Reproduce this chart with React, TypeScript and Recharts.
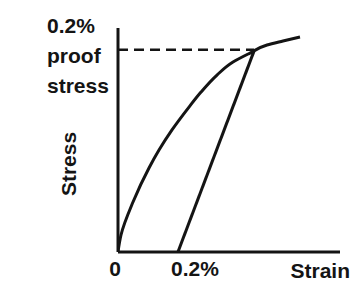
import React from 'react';
import { LineChart, Line, XAxis, YAxis } from 'recharts';

// stress-strain curve (strain %, stress %)
const curveStrain = [0, 1.35, 6.76, 13.96, 18.47, 24.32, 31.98, 37.39, 44.59, 51.8, 59.46, 67.12, 74.32, 81.98];
const curveStress = [0, 7.6, 22.3, 37.5, 45.5, 54.5, 64.7, 71.4, 79.0, 84.8, 88.8, 92.4, 94.2, 96.0];

// line parallel to the elastic part, offset by 0.2% strain
const offsetStrain = [27, 61.3];
const offsetStress = [0, 89.8];

// dashed guide to the proof stress
const proofStrain = [0, 61.3];
const proofStress = [90.3, 90.3];

const xTickValues = [0, 27];
const xTickLabels = ['0', '0.2%'];
const proofLabel = ['0.2%', 'proof', 'stress'];

const toRows = (xs: number[], ys: number[]) => xs.map((x, i) => ({ x, y: ys[i] }));

const curve = toRows(curveStrain, curveStress);
const offsetLine = toRows(offsetStrain, offsetStress);
const proofLine = toRows(proofStrain, proofStress);

const ink = '#141414';
const font = '"Liberation Sans", Arial, sans-serif';

const XTick = (props: any) => {
    const { x, y, index } = props;
    const shift = index === 1 ? 17 : -3;
    return (
        <text x={x + shift} y={y + 1} dy="0.71em" textAnchor="middle" fontFamily={font}
            fontSize={21} fontWeight={700} fill={ink}>
            {xTickLabels[index]}
        </text>
    );
};

export default function App() {
    return (
        <div style={{ position: 'absolute', left: 0, top: 0, background: '#fff' }}>
            <LineChart width={351} height={281} margin={{ top: 28, right: 11, left: 0, bottom: 0 }}>
                <XAxis type="number" dataKey="x" domain={[0, 100]} ticks={xTickValues} height={29}
                    tickLine={false} tick={<XTick />} axisLine={{ stroke: ink, strokeWidth: 3 }}
                    allowDataOverflow interval={0} />
                <YAxis type="number" dataKey="y" domain={[0, 100]} width={118} tick={false}
                    tickLine={false} axisLine={{ stroke: ink, strokeWidth: 3 }} allowDataOverflow />
                <Line data={proofLine} dataKey="y" type="linear" stroke={ink} strokeWidth={2.5}
                    strokeDasharray="10 6" dot={false} isAnimationActive={false} />
                <Line data={offsetLine} dataKey="y" type="linear" stroke={ink} strokeWidth={3}
                    dot={false} isAnimationActive={false} />
                <Line data={curve} dataKey="y" type="monotoneY" stroke={ink} strokeWidth={3}
                    dot={false} isAnimationActive={false} />
                {proofLabel.map((t, i) => (
                    <text key={t} x={47} y={33 + i * 30} fontFamily={font} fontSize={21}
                        fontWeight={700} fill={ink}>{t}</text>
                ))}
                <text x={0} y={0} transform="translate(76 164) rotate(-90)" textAnchor="middle"
                    fontFamily={font} fontSize={21} fontWeight={700} fill={ink}>Stress</text>
                <text x={350} y={278} textAnchor="end" fontFamily={font} fontSize={21}
                    fontWeight={700} fill={ink}>Strain</text>
            </LineChart>
        </div>
    );
}
